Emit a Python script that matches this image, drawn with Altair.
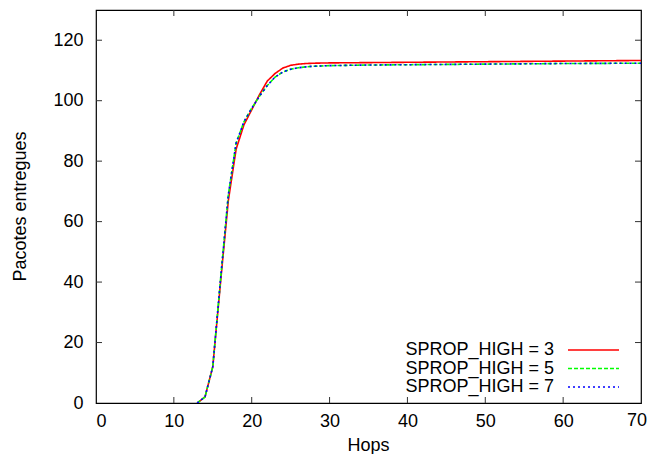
import altair as alt
import pandas as pd

hops = [13, 14, 15, 16, 17, 18, 19, 20,
        21, 22, 23, 24, 25, 26, 27, 28, 30, 35, 40, 45, 50, 55, 60, 65, 70]
sprop3 = [0, 2, 12, 40, 67, 84, 92, 97,
          102, 106.5, 109, 110.8, 111.7, 112.1, 112.3, 112.4, 112.5, 112.6, 112.7, 112.8, 112.9, 113.0, 113.1, 113.2, 113.3]
sprop5 = [0, 2, 12, 41, 69, 86, 93, 97.5,
          101.5, 105, 107.8, 109.5, 110.4, 110.9, 111.2, 111.4, 111.6, 111.8, 111.9, 112.0, 112.1, 112.2, 112.3, 112.35, 112.4]
sprop7 = [0, 2, 12, 41, 69, 86, 93, 97.5,
          101.5, 105, 107.8, 109.5, 110.4, 110.9, 111.2, 111.4, 111.6, 111.8, 111.9, 112.0, 112.1, 112.2, 112.3, 112.35, 112.4]

series_names = ["SPROP_HIGH = 3", "SPROP_HIGH = 5", "SPROP_HIGH = 7"]
series_values = [sprop3, sprop5, sprop7]
colors = ["#ff0000", "#00ff00", "#0000ff"]
dashes = [[1, 0], [4, 2], [2, 3]]

x_ticks = [0, 10, 20, 30, 40, 50, 60, 70]
y_ticks = [0, 20, 40, 60, 80, 100, 120]

W, H = 545, 393
FONT = "Liberation Sans"
FS = 18

rows = []
for name, vals in zip(series_names, series_values):
    for h, v in zip(hops, vals):
        rows.append({"hops": h, "value": v, "series": name})
df = pd.DataFrame(rows)

xscale = alt.Scale(domain=[0, 70], nice=False, zero=False)
yscale = alt.Scale(domain=[0, 130], nice=False)

x_axis = alt.Axis(values=x_ticks[:-1], ticks=False, tickSize=0, grid=False, domain=False,
                  labelFont=FONT, labelFontSize=FS, labelColor="#000", labelPadding=9,
                  title="Hops", titleFont=FONT, titleFontSize=FS, titleFontWeight="normal",
                  titleColor="#000", titleX=272, titleY=47, titleBaseline="alphabetic", titleAlign="center")
y_axis = alt.Axis(values=y_ticks, ticks=False, tickSize=0, grid=False, domain=False,
                  labelFont=FONT, labelFontSize=FS, labelColor="#000", labelPadding=13,
                  title="Pacotes entregues", titleFont=FONT, titleFontSize=FS, titleFontWeight="normal",
                  titleColor="#000", titleX=-76, titleY=196, titleAngle=270,
                  titleBaseline="middle", titleAlign="center")

layers = []
# data lines
for i, name in enumerate(series_names):
    base = alt.Chart(df).transform_filter(alt.datum.series == name).mark_line(
        color=colors[i], strokeWidth=1.6, strokeDash=dashes[i], clip=True)
    if i == 0:
        layers.append(base.encode(x=alt.X("hops:Q", scale=xscale, axis=x_axis),
                                  y=alt.Y("value:Q", scale=yscale, axis=y_axis)))
    else:
        layers.append(base.encode(x=alt.X("hops:Q", scale=xscale),
                                  y=alt.Y("value:Q", scale=yscale)))

# last x tick label, kept inside the page edge
last = pd.DataFrame({"t": [x_ticks[-1]]})
layers.append(alt.Chart(last).mark_text(align="right", baseline="top", font=FONT, fontSize=FS,
                                        color="#000", dx=6, dy=9).encode(
    x=alt.X("t:Q", scale=xscale), y=alt.value(H), text="t:Q"))

# inward ticks (gnuplot style, mirrored)
xt = pd.DataFrame({"t": x_ticks[1:-1]})
yt = pd.DataFrame({"t": y_ticks[1:]})
tick_color = "#333"
layers.append(alt.Chart(xt).mark_rule(color=tick_color, strokeWidth=1).encode(
    x=alt.X("t:Q", scale=xscale), y=alt.value(H), y2=alt.value(H - 6)))
layers.append(alt.Chart(xt).mark_rule(color=tick_color, strokeWidth=1).encode(
    x=alt.X("t:Q", scale=xscale), y=alt.value(0), y2=alt.value(6)))
layers.append(alt.Chart(yt).mark_rule(color=tick_color, strokeWidth=1).encode(
    y=alt.Y("t:Q", scale=yscale), x=alt.value(0), x2=alt.value(6)))
layers.append(alt.Chart(yt).mark_rule(color=tick_color, strokeWidth=1).encode(
    y=alt.Y("t:Q", scale=yscale), x=alt.value(W), x2=alt.value(W - 6)))

# legend (inside, bottom right, gnuplot style)
leg_y = [340, 358.5, 377]
for i, name in enumerate(series_names):
    ld = pd.DataFrame({"label": [name]})
    layers.append(alt.Chart(ld).mark_text(align="right", baseline="middle", font=FONT,
                                          fontSize=FS, color="#000").encode(
        text="label:N", x=alt.value(458), y=alt.value(leg_y[i])))
    layers.append(alt.Chart(ld).mark_rule(color=colors[i], strokeWidth=1.6,
                                          strokeDash=dashes[i]).encode(
        x=alt.value(472), x2=alt.value(523), y=alt.value(leg_y[i])))

chart = alt.layer(*layers).properties(
    width=W, height=H,
    padding={"left": 88, "top": 2, "right": 6, "bottom": 51},
    autosize=alt.AutoSizeParams(type="none"),
    background="#ffffff",
).configure_view(stroke="#000", strokeWidth=1.2)

chart.save("out.html", embed_options={"renderer": "svg", "actions": False})
